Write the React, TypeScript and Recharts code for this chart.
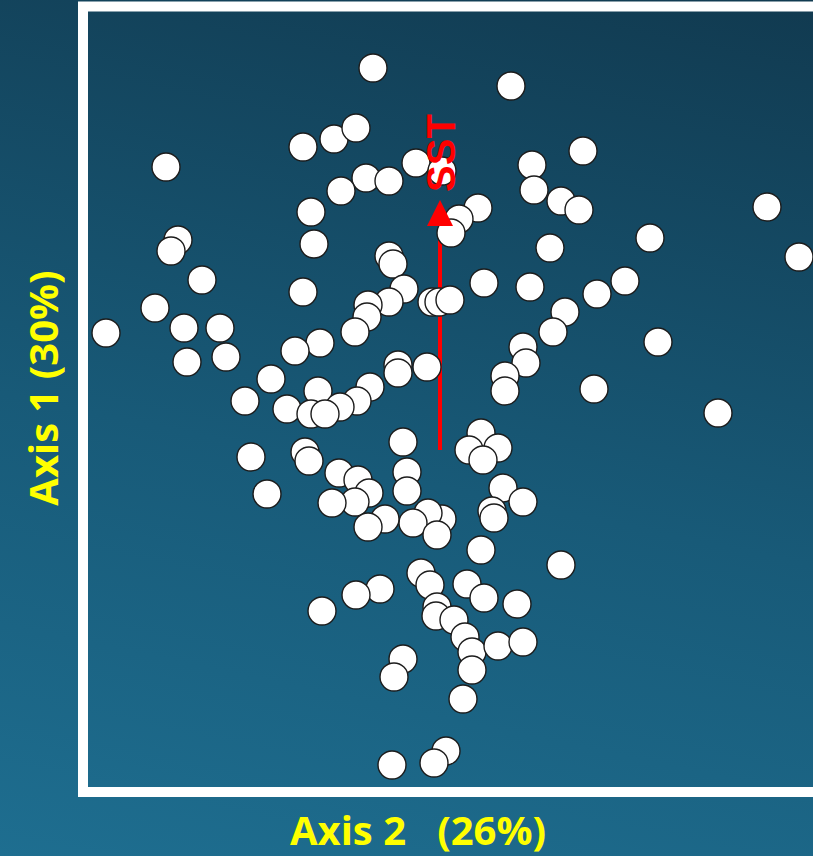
import { ScatterChart, Scatter, XAxis, YAxis, ReferenceArea, ReferenceLine, ReferenceDot } from 'recharts'

// Site scores on the two ordination axes (Axis 2 horizontal, Axis 1 vertical)
const axis2Scores = [
  -0.77, 0.61, -1.47, -1.16, -0.94, -2.84, -0.34, -0.08, 0.82, 1.33,
  -0.84, -0.61, -1.09, 0.84, 1.11, 1.29, 3.17, -1.39, 0.28, 0.09,
  0.01, -2.72, -2.79, -1.36, 1.0, 2.0, -0.61, -0.57, 3.49, -2.48,
  0.34, 0.8, 1.75, -1.47, -0.46, -0.61, -0.18, -0.11, 0.0, 1.47,
  -2.95, -0.82, -0.83, 1.15, -3.44, -2.66, -2.3, -0.95, 1.03, -1.3,
  -1.55, 0.73, 2.08, -2.63, -2.24, -0.52, -0.23, 0.76, -0.52, -1.79,
  0.55, -0.8, -1.32, 0.55, 1.44, -2.05, -0.93, -1.1, -1.63, -1.39,
  -1.25, 2.68, -0.47, 0.31, 0.48, 0.19, 0.33, -1.45, -1.41, -1.99,
  -0.43, -1.11, -0.92, 0.53, -0.43, -1.83, 0.73, -0.81, -0.95, -1.18,
  0.42, 0.44, -0.08, -0.22, -0.37, -0.65, -0.82, -0.13, 0.31, 1.11,
  -0.29, -0.2, 0.17, -0.7, -0.94, 0.34, 0.67, -1.28, -0.13, -0.14,
  0.04, 0.15, 0.22, 0.48, 0.73, 0.22, -0.47, -0.56, 0.13, -0.04,
  -0.16, -0.58,
]

const axis1Scores = [
  3.32, 3.14, 2.53, 2.61, 2.72, 2.33, 2.37, 2.29, 2.35, 2.49,
  2.22, 2.19, 2.09, 2.1, 1.99, 1.9, 1.93, 1.88, 1.92, 1.81,
  1.67, 1.6, 1.49, 1.56, 1.52, 1.62, 1.44, 1.36, 1.43, 1.2,
  1.17, 1.13, 1.19, 1.08, 1.11, 0.98, 0.98, 0.98, 1.0, 1.06,
  0.92, 0.95, 0.83, 0.88, 0.67, 0.72, 0.72, 0.68, 0.68, 0.57,
  0.49, 0.53, 0.58, 0.38, 0.43, 0.35, 0.33, 0.37, 0.27, 0.21,
  0.24, 0.13, 0.09, 0.09, 0.11, -0.01, -0.01, -0.07, -0.09, -0.14,
  -0.14, -0.13, -0.42, -0.33, -0.48, -0.5, -0.6, -0.52, -0.61, -0.57,
  -0.72, -0.73, -0.8, -0.88, -0.91, -0.94, -1.02, -0.93, -1.02, -1.03,
  -1.11, -1.18, -1.19, -1.13, -1.23, -1.19, -1.27, -1.35, -1.5, -1.65,
  -1.73, -1.85, -1.84, -1.89, -1.95, -1.98, -2.04, -2.11, -2.07, -2.16,
  -2.2, -2.37, -2.52, -2.46, -2.42, -2.7, -2.59, -2.77, -2.99, -3.51,
  -3.63, -3.65,
]

// SST environmental vector: origin and tip in score units
const sstVector = { x: -0.1, y0: -0.5, y1: 2.0 }

const X_DOMAIN = [-3.67, 3.7]
const Y_DOMAIN = [-3.92, 3.935]

const sites = axis2Scores.map((x, i) => ({ x, y: axis1Scores[i] }))

const Site = (props: any) => (
  <circle cx={props.cx} cy={props.cy} r={14} fill="#ffffff" stroke="#1c1c1c" strokeWidth={1.4} />
)

const ArrowHead = (props: any) => {
  const { cx, cy } = props
  return <path d={`M${cx},${cy} L${cx - 13},${cy + 26} L${cx + 13},${cy + 26} Z`} fill="#ff0000" />
}

const SstLabel = (props: any) => {
  const { cx, cy } = props
  return (
    <text
      x={cx}
      y={cy}
      transform={`rotate(-90 ${cx} ${cy})`}
      textAnchor="middle"
      dominantBaseline="central"
      fill="#ff0000"
      fontFamily="'Liberation Sans', Arial, sans-serif"
      fontWeight={700}
      fontSize={40}
    >
      SST
    </text>
  )
}

const titleProps = {
  fill: '#ffff00',
  fontFamily: "'Open Sans', sans-serif",
  fontWeight: 700,
  fontSize: 40,
  textAnchor: 'middle' as const,
  dominantBaseline: 'central' as const,
}

export default function App() {
  return (
    <div
      style={{
        position: 'absolute',
        left: 0,
        top: 0,
        width: 813,
        height: 856,
        overflow: 'hidden',
        background: 'linear-gradient(12deg, #1e6e90 0%, #185a78 45%, #113a50 100%)',
      }}
    >
      <ScatterChart width={830} height={856} margin={{ top: 6.5, left: 83, right: 10, bottom: 64 }}>
        <XAxis type="number" dataKey="x" domain={X_DOMAIN} allowDataOverflow hide />
        <YAxis type="number" dataKey="y" domain={Y_DOMAIN} allowDataOverflow hide />
        <ReferenceArea
          x1={X_DOMAIN[0]}
          x2={X_DOMAIN[1]}
          y1={Y_DOMAIN[0]}
          y2={Y_DOMAIN[1]}
          fill="none"
          fillOpacity={0}
          stroke="#ffffff"
          strokeWidth={10}
        />
        <ReferenceLine
          segment={[
            { x: sstVector.x, y: sstVector.y0 },
            { x: sstVector.x, y: sstVector.y1 - 0.2 },
          ]}
          stroke="#ff0000"
          strokeWidth={4}
        />
        <Scatter data={sites} shape={Site} isAnimationActive={false} />
        <ReferenceDot x={sstVector.x} y={sstVector.y1} r={0} shape={ArrowHead} />
        <ReferenceDot x={sstVector.x + 0.01} y={sstVector.y1 + 0.47} r={0} shape={SstLabel} />
      </ScatterChart>
      <svg width={813} height={856} style={{ position: 'absolute', left: 0, top: 0, pointerEvents: 'none' }}>
        <text {...titleProps} x={42} y={388} transform="rotate(-90 42 388)">
          Axis 1 (30%)
        </text>
        <text {...titleProps} x={418} y={829} style={{ whiteSpace: 'pre' }}>
          {'Axis 2   (26%)'}
        </text>
      </svg>
    </div>
  )
}
